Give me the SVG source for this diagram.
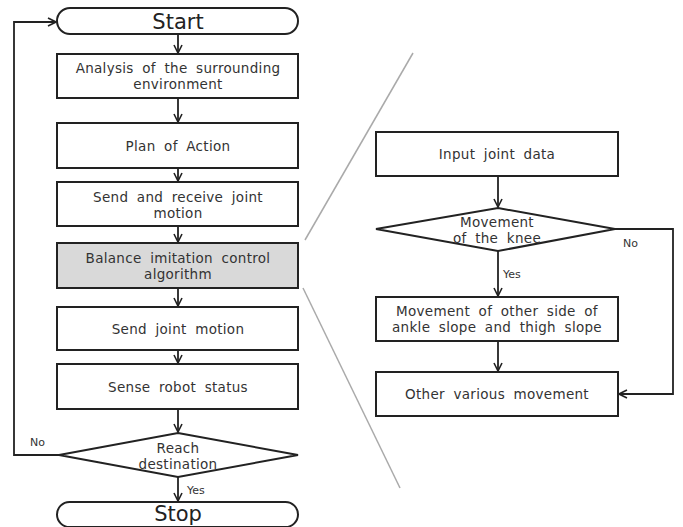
<svg xmlns="http://www.w3.org/2000/svg" width="683" height="527" viewBox="0 0 683 527">
<style>
.box{fill:#fff;stroke:#222;stroke-width:2}
.gray{fill:#d9d9d9}
.t{font-family:"DejaVu Sans","Open Sans",sans-serif;font-size:13.5px;fill:#333;text-anchor:middle;word-spacing:4px;letter-spacing:0.3px}
.big{font-size:21px;fill:#222;word-spacing:0;letter-spacing:0}
.lab{font-family:"DejaVu Sans","Open Sans",sans-serif;font-size:11px;fill:#333}
.c{fill:none;stroke:#222;stroke-width:1.8}
.zoom{stroke:#aaa;stroke-width:1.5;fill:none}
</style>
<defs>
<marker id="ah" viewBox="0 0 10 10" refX="9" refY="5" markerWidth="10" markerHeight="10" markerUnits="userSpaceOnUse" orient="auto">
<polyline points="1,1 9,5 1,9" fill="none" stroke="#222" stroke-width="1.6"/>
</marker>
</defs>
<rect width="683" height="527" fill="#fff"/>
<g id="zoom-lines">
<line class="zoom" x1="413" y1="53" x2="305" y2="240"/>
<line class="zoom" x1="303" y1="288" x2="400" y2="488"/>
</g>
<g id="connectors">
<line class="c" x1="178" y1="34" x2="178" y2="53" marker-end="url(#ah)"/>
<line class="c" x1="178" y1="98" x2="178" y2="122" marker-end="url(#ah)"/>
<line class="c" x1="178" y1="168" x2="178" y2="181" marker-end="url(#ah)"/>
<line class="c" x1="178" y1="226" x2="178" y2="242" marker-end="url(#ah)"/>
<line class="c" x1="178" y1="288" x2="178" y2="306" marker-end="url(#ah)"/>
<line class="c" x1="178" y1="350" x2="178" y2="363" marker-end="url(#ah)"/>
<line class="c" x1="178" y1="409" x2="178" y2="432" marker-end="url(#ah)"/>
<line class="c" x1="178" y1="477" x2="178" y2="501" marker-end="url(#ah)"/>
<polyline class="c" points="59,455 14,455 14,22 56,22" marker-end="url(#ah)"/>
<line class="c" x1="498" y1="176" x2="498" y2="207" marker-end="url(#ah)"/>
<line class="c" x1="498" y1="251" x2="498" y2="296" marker-end="url(#ah)"/>
<line class="c" x1="498" y1="341" x2="498" y2="371" marker-end="url(#ah)"/>
<polyline class="c" points="615,229 673,229 673,394 619,394" marker-end="url(#ah)"/>
<text class="lab" x="30" y="446">No</text>
<text class="lab" x="187" y="494">Yes</text>
<text class="lab" x="503" y="278">Yes</text>
<text class="lab" x="623" y="247">No</text>
</g>
<g id="start">
<rect class="box" x="57" y="8" width="241" height="26" rx="13" ry="13"/>
<text class="t big" x="178" y="29">Start</text>
</g>
<g id="analysis">
<rect class="box" x="57" y="54" width="241" height="44"/>
<text class="t" x="178" y="73">Analysis of the surrounding<tspan x="178" dy="16">environment</tspan></text>
</g>
<g id="plan">
<rect class="box" x="57" y="123" width="241" height="45"/>
<text class="t" x="178" y="151">Plan of Action</text>
</g>
<g id="send-receive">
<rect class="box" x="57" y="182" width="241" height="44"/>
<text class="t" x="178" y="202">Send and receive joint<tspan x="178" dy="16">motion</tspan></text>
</g>
<g id="balance">
<rect class="box gray" x="57" y="243" width="241" height="45"/>
<text class="t" x="178" y="263">Balance imitation control<tspan x="178" dy="16">algorithm</tspan></text>
</g>
<g id="send-joint">
<rect class="box" x="57" y="307" width="241" height="43"/>
<text class="t" x="178" y="334">Send joint motion</text>
</g>
<g id="sense">
<rect class="box" x="57" y="364" width="241" height="45"/>
<text class="t" x="178" y="392">Sense robot status</text>
</g>
<g id="reach">
<polygon class="box" points="178,433 298,455 178,477 59,455"/>
<text class="t" x="178" y="453">Reach<tspan x="178" dy="16">destination</tspan></text>
</g>
<g id="stop">
<rect class="box" x="57" y="502" width="241" height="25" rx="12.5" ry="12.5"/>
<text class="t big" x="178" y="521">Stop</text>
</g>
<g id="input">
<rect class="box" x="376" y="132" width="242" height="44"/>
<text class="t" x="497" y="159">Input joint data</text>
</g>
<g id="knee">
<polygon class="box" points="498,208 615,229 498,251 376,229"/>
<text class="t" x="497" y="227">Movement<tspan x="497" dy="16">of the knee</tspan></text>
</g>
<g id="other-side">
<rect class="box" x="376" y="297" width="242" height="44"/>
<text class="t" x="497" y="316">Movement of other side of<tspan x="497" dy="16">ankle slope and thigh slope</tspan></text>
</g>
<g id="other-various">
<rect class="box" x="376" y="372" width="242" height="44"/>
<text class="t" x="497" y="399">Other various movement</text>
</g>
</svg>
